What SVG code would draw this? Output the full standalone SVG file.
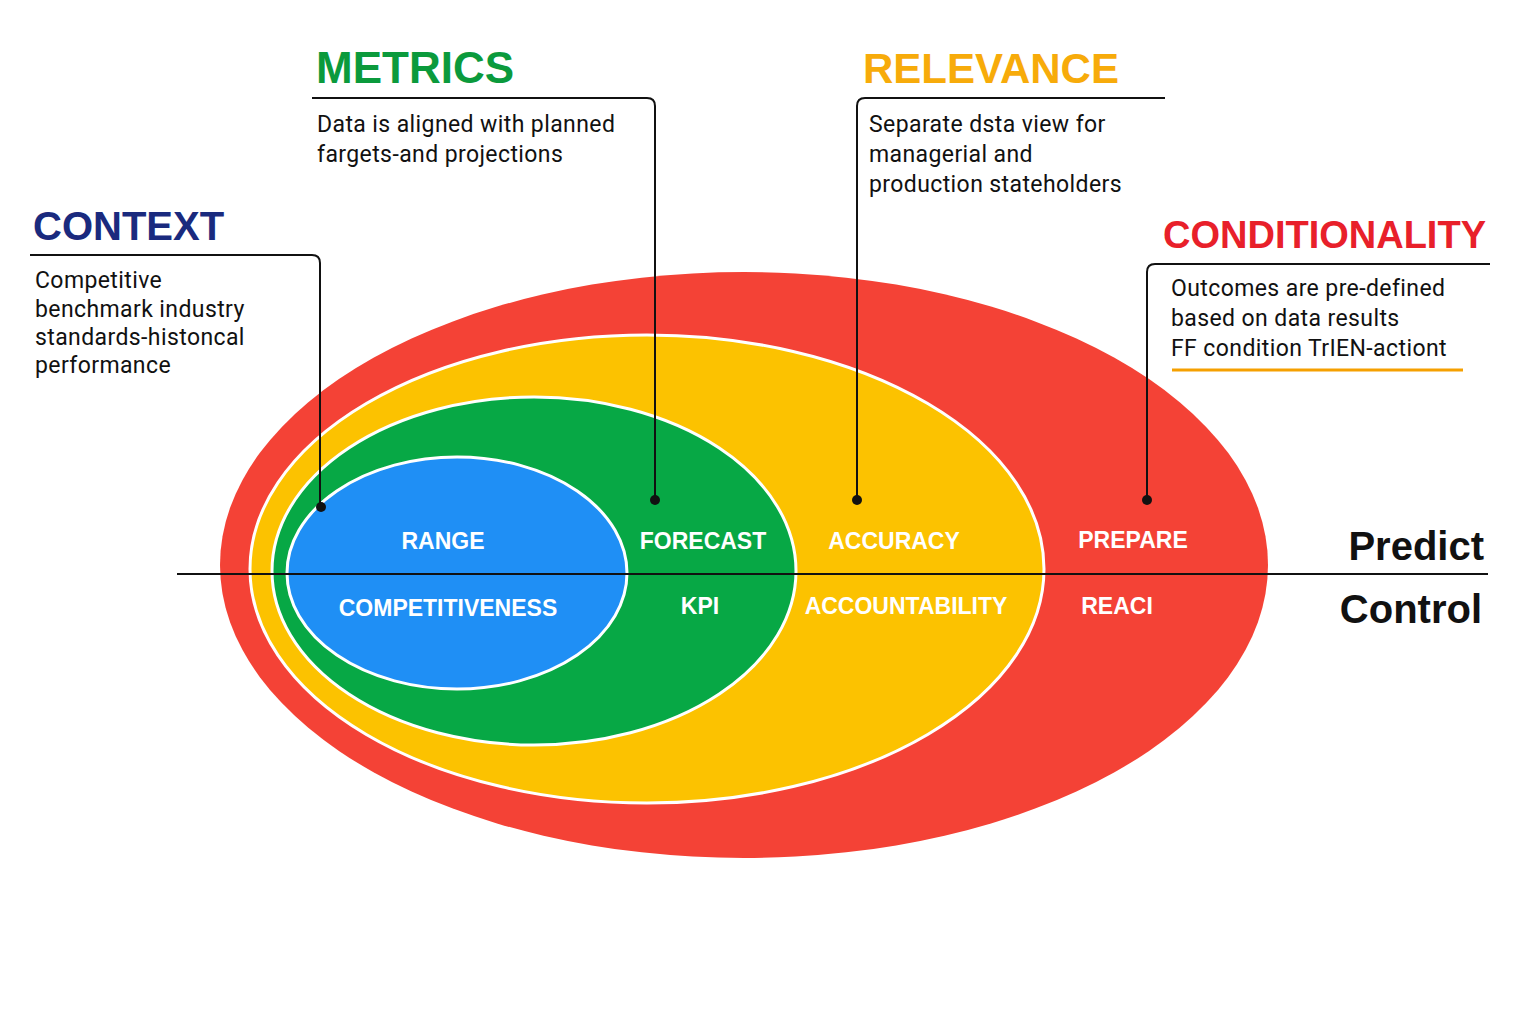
<svg xmlns="http://www.w3.org/2000/svg" width="1536" height="1024" viewBox="0 0 1536 1024">
<style>
.t{font-family:"Liberation Sans",Arial,sans-serif;font-weight:bold}
.b{font-family:"Roboto","Liberation Sans",sans-serif;font-size:23px;letter-spacing:0.4px;fill:#111}
.in{font-family:"Liberation Sans",Arial,sans-serif;font-weight:bold;font-size:23px;fill:#fff;text-anchor:middle}
.ld{fill:none;stroke:#111;stroke-width:2}
</style>
<rect width="1536" height="1024" fill="#fff"/>
<g id="red"><ellipse cx="744" cy="565" rx="524" ry="293" fill="#f44236"/></g>
<g id="yellow"><ellipse cx="647" cy="569" rx="397" ry="234" fill="#fcc200" stroke="#fff" stroke-width="3"/></g>
<g id="green"><ellipse cx="534" cy="571" rx="262" ry="174" fill="#07a845" stroke="#fff" stroke-width="3"/></g>
<g id="blue"><ellipse cx="457" cy="573" rx="170" ry="116" fill="#1f8ff5" stroke="#fff" stroke-width="3"/></g>
<line x1="177" y1="574" x2="1488" y2="574" stroke="#111" stroke-width="2"/>
<g id="inner-labels">
<text class="in" x="443" y="549">RANGE</text>
<text class="in" x="703" y="549">FORECAST</text>
<text class="in" x="894" y="549">ACCURACY</text>
<text class="in" x="1133" y="548">PREPARE</text>
<text class="in" x="448" y="616">COMPETITIVENESS</text>
<text class="in" x="700" y="614">KPI</text>
<text class="in" x="906" y="614">ACCOUNTABILITY</text>
<text class="in" x="1117" y="614">REACI</text>
</g>
<g id="axis-labels">
<text class="t" x="1484" y="560" font-size="40" text-anchor="end" fill="#111">Predict</text>
<text class="t" x="1482" y="623" font-size="40" text-anchor="end" fill="#111">Control</text>
</g>
<g id="connectors">
<path class="ld" d="M30 255 H312 Q320 255 320 263 V507"/>
<path class="ld" d="M312 98 H647 Q655 98 655 106 V500"/>
<path class="ld" d="M1165 98 H865 Q857 98 857 106 V500"/>
<path class="ld" d="M1490 264 H1155 Q1147 264 1147 272 V500"/>
<circle cx="321" cy="507" r="5" fill="#111"/>
<circle cx="655" cy="500" r="5" fill="#111"/>
<circle cx="857" cy="500" r="5" fill="#111"/>
<circle cx="1147" cy="500" r="5" fill="#111"/>
<line x1="1172" y1="370" x2="1463" y2="370" stroke="#f5a000" stroke-width="3"/>
</g>
<g id="context">
<text class="t" x="33" y="240" font-size="40" fill="#1a2a7e">CONTEXT</text>
<text class="b" x="35" y="288">Competitive</text>
<text class="b" x="35" y="317">benchmark  industry</text>
<text class="b" x="35" y="345">standards-histoncal</text>
<text class="b" x="35" y="373">performance</text>
</g>
<g id="metrics">
<text class="t" x="316" y="83" font-size="44" fill="#0b9a3c">METRICS</text>
<text class="b" x="317" y="132">Data is aligned with planned</text>
<text class="b" x="317" y="162">fargets-and projections</text>
</g>
<g id="relevance">
<text class="t" x="863" y="83" font-size="42" fill="#f7ab0a">RELEVANCE</text>
<text class="b" x="869" y="132">Separate dsta view for</text>
<text class="b" x="869" y="162">managerial and</text>
<text class="b" x="869" y="192">production stateholders</text>
</g>
<g id="conditionality">
<text class="t" x="1163" y="248" font-size="38" fill="#e8202a">CONDITIONALITY</text>
<text class="b" x="1171" y="296">Outcomes are pre-defined</text>
<text class="b" x="1171" y="326">based on data results</text>
<text class="b" x="1171" y="356">FF condition TrIEN-actiont</text>
</g>
</svg>
